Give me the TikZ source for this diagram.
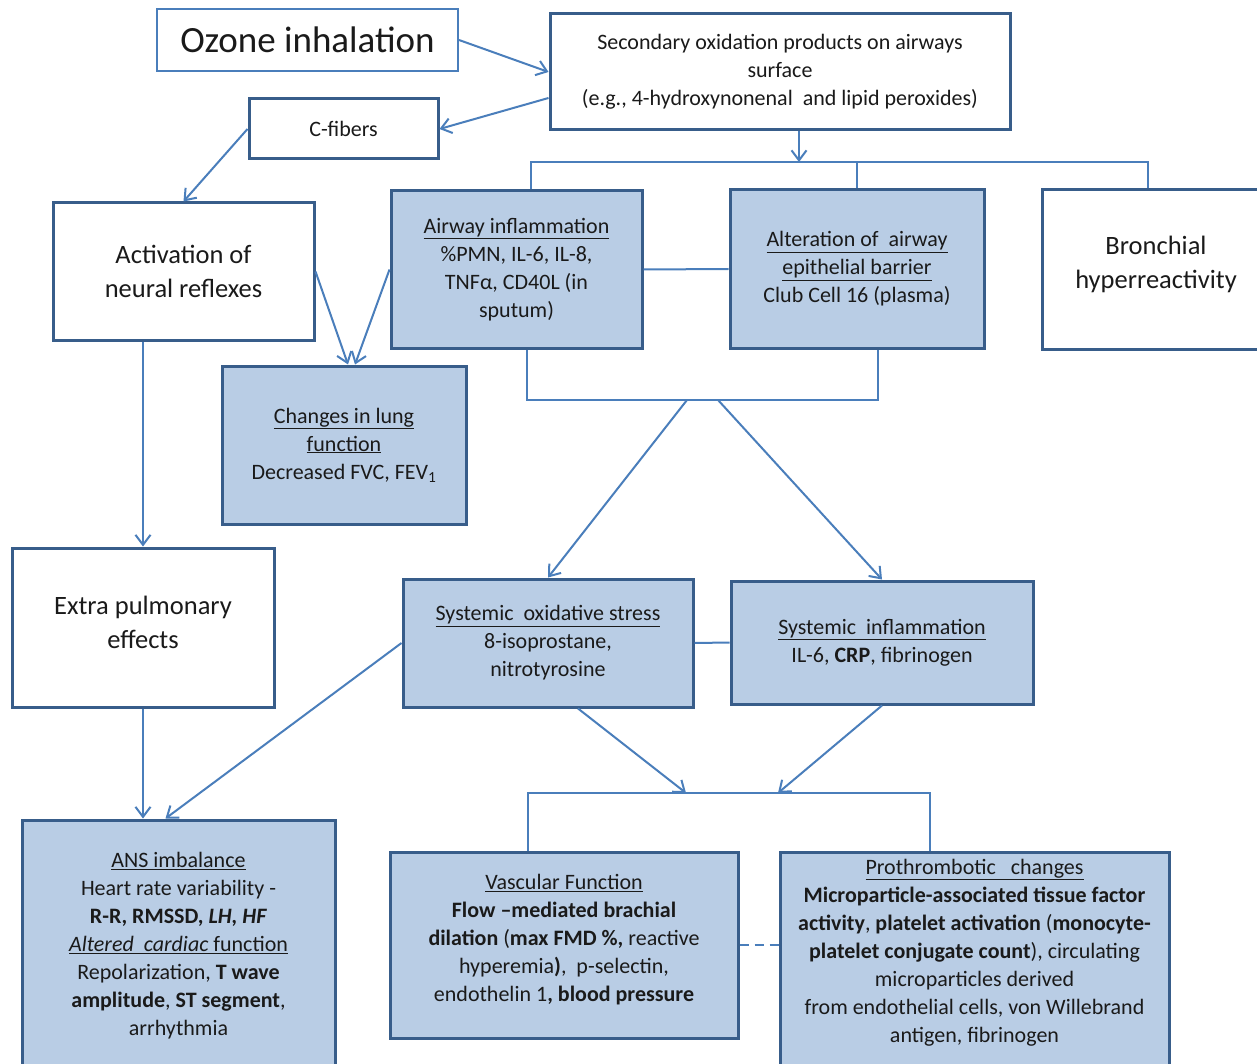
\documentclass[tikz,border=0pt]{standalone}
\usepackage{fontspec}
\setmainfont{Carlito}
\usetikzlibrary{arrows.meta,calc}
\definecolor{bord}{HTML}{385D8A}
\definecolor{lnc}{HTML}{4A7EBB}
\definecolor{fillb}{HTML}{B9CDE5}
\definecolor{txt}{HTML}{1A1A1A}
\newcommand{\myul}[1]{\underline{#1}}
\begin{document}
\begin{tikzpicture}[x=1pt,y=-1pt,
  box/.style={draw=bord, line width=3pt, fill=white, align=center, inner sep=2pt, text=txt, font=\fontsize{22}{28}\selectfont},
  bbox/.style={box, fill=fillb},
  bigtxt/.style={font=\fontsize{26.5}{34}\selectfont},
  ln/.style={draw=lnc, line width=2pt},
  arr/.style={ln, -{Straight Barb[length=10pt,width=15pt,line width=2pt]}},
]
\useasboundingbox (0,0) rectangle (1257,1064);

% boxes
\node[box, draw=lnc, line width=2pt, font=\fontsize{37}{44}\selectfont, minimum width=301pt, minimum height=62pt] (ozone) at (307.5,40) {Ozone inhalation};
\node[box, minimum width=460pt, minimum height=116pt] (sec) at (780,72)
  {Secondary oxidation products on airways\\ surface\\ (e.g., 4-hydroxynonenal~ and lipid peroxides)};
\node[box, minimum width=189pt, minimum height=60pt] (cf) at (343.5,129) {C-fibers};
\node[box, bigtxt, minimum width=261pt, minimum height=137pt] (act) at (183.5,271.5) {Activation of\\ neural reflexes};
\node[bbox, minimum width=251pt, minimum height=157pt] (air) at (516.5,269.5)
  {\myul{Airway inflammation}\\ \%PMN, IL-6, IL-8,\\ TNFα, CD40L (in\\ sputum)};
\node[bbox, minimum width=254pt, minimum height=158pt] (alt) at (857,269)
  {\myul{Alteration of~ airway}\\ \myul{epithelial barrier}\\ Club Cell 16 (plasma)};
\node[box, bigtxt, minimum width=228pt, minimum height=159pt] (bro) at (1156,269.5) {Bronchial\\ hyperreactivity\\[-20pt]\mbox{}};
\node[bbox, minimum width=244pt, minimum height=158pt] (lung) at (344,445)
  {\myul{Changes in lung}\\ \myul{function}\\ Decreased FVC, FEV\textsubscript{1}};
\node[box, bigtxt, minimum width=262pt, minimum height=159pt] (ext) at (143,627.5) {Extra pulmonary\\ effects\\[-24pt]\mbox{}};
\node[bbox, minimum width=290pt, minimum height=128pt] (ox) at (548,643)
  {\myul{Systemic~ oxidative stress}\\ 8-isoprostane,\\ nitrotyrosine};
\node[bbox, minimum width=302pt, minimum height=123pt] (inf) at (882,642.5)
  {\myul{Systemic~ inflammation}\\ IL-6, \textbf{CRP}, fibrinogen};
\node[bbox, minimum width=313pt, minimum height=255pt] (ans) at (178.5,947.5)
  {\myul{ANS imbalance}\\ Heart rate variability -\\ \textbf{R-R, RMSSD, \textit{LH, HF}}\\
   \myul{\textit{Altered~ cardiac} function}\\ Repolarization, \textbf{T wave}\\
   \textbf{amplitude}, \textbf{ST segment},\\ arrhythmia\\[-20pt]\mbox{}};
\node[bbox, minimum width=348pt, minimum height=186pt] (vas) at (564,945)
  {\myul{Vascular Function}\\ \textbf{Flow –mediated brachial}\\ \textbf{dilation} (\textbf{max FMD \%,} reactive\\
   hyperemia\textbf{)},~ p-selectin,\\ endothelin 1\textbf{, blood pressure}\\[-14pt]\mbox{}};
\node[bbox, minimum width=389pt, minimum height=223pt] (pro) at (974.5,963.5)
  {\myul{Prothrombotic~~ changes}\\ \textbf{Microparticle-associated tissue factor}\\
   \textbf{activity}, \textbf{platelet activation} (\textbf{monocyte-}\\
   \textbf{platelet conjugate count}), circulating\\ microparticles derived\\
   from endothelial cells, von Willebrand\\ antigen, fibrinogen\\[-2pt]\mbox{}};

% helper coordinates
\coordinate (tbL) at (531,162);
\coordinate (tbR) at (1148,162);
\coordinate (bbL) at (527,400);
\coordinate (bbR) at (878,400);
\coordinate (fork1) at (687,400);
\coordinate (fork2) at (718,400);
\coordinate (b2L) at (528,793);
\coordinate (b2R) at (930,793);
\coordinate (m1) at (686,793);
\coordinate (m2) at (778,793);

% connectors
\draw[arr] (ozone.east) -- (sec.west);
\draw[arr] ([yshift=-26pt]sec.west) -- (cf.east);
\draw[arr] (cf.west) -- (act.north);
\draw[arr] ([xshift=19pt]sec.south) -- ([xshift=19pt]sec.south |- tbL);
\draw[ln] (air.north -| tbL) -- (tbL) -- (tbR) -- (bro.north -| tbR);
\draw[ln] (alt.north) -- (alt.north |- tbL);
\draw[ln] (air.east) -- (alt.west);
\draw[arr] (act.east) -- ([xshift=4pt]lung.north);
\draw[arr] (air.west) -- ([xshift=11pt]lung.north);
\draw[arr] (act.south -| ext.north) -- (ext.north);
\draw[ln] (air.south -| bbL) -- (bbL) -- (bbR) -- (alt.south -| bbR);
\draw[arr] (fork1) -- (ox.north);
\draw[arr] (fork2) -- (inf.north);
\draw[ln] (ox.east) -- (inf.west);
\draw[arr] (ext.south) -- (ans.north -| ext.south);
\draw[arr] (ox.west) -- ([xshift=-13pt]ans.north);
\draw[arr] ([xshift=30pt]ox.south) -- (m1);
\draw[arr] (inf.south) -- (m2);
\draw[ln] (vas.north -| b2L) -- (b2L) -- (b2R) -- (pro.north -| b2R);
\draw[ln, dash pattern=on 9pt off 6pt] (vas.east) -- (vas.east -| pro.west);
\end{tikzpicture}
\end{document}
